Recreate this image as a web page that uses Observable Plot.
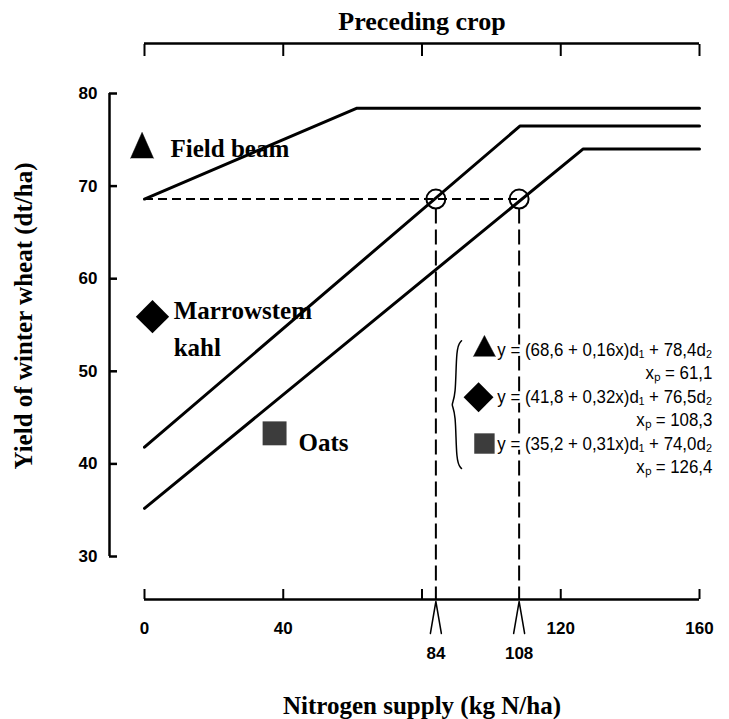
<!DOCTYPE html>
<html>
<head>
<meta charset="utf-8">
<script src="https://cdn.jsdelivr.net/npm/d3@7"></script>
<script src="https://cdn.jsdelivr.net/npm/@observablehq/plot@0.6"></script>
<style>
html, body { margin: 0; padding: 0; background: #fff; }
</style>
</head>
<body>
<div id="chart"></div>
<script>
// ---------- data ----------
const crops = ["Field bean", "Marrowstem kale", "Oats"];
const fieldBeanN = [0, 61.1, 160];
const fieldBeanYield = [68.6, 78.4, 78.4];
const kaleN = [0, 108.3, 160];
const kaleYield = [41.8, 76.5, 76.5];
const oatsN = [0, 126.4, 160];
const oatsYield = [35.2, 74.0, 74.0];

const targetYield = 68.6;          // dashed reference yield
const crossingN = [84, 108];       // N supply where kale / oats reach it

const xDomain = [0, 160];
const yDomain = [30, 80];
const xTicks = [0, 40, 80, 120, 160];
const xTickLabels = [0, 40, 120, 160];
const yTicks = [30, 40, 50, 60, 70, 80];

const seriesLabels = ["Field beam", "Marrowstem\nkahl", "Oats"];
const equations = [
  "y = (68,6 + 0,16x)d\u2081 + 78,4d\u2082",
  "y = (41,8 + 0,32x)d\u2081 + 76,5d\u2082",
  "y = (35,2 + 0,31x)d\u2081 + 74,0d\u2082"
];
const breakpoints = ["x\u209a = 61,1", "x\u209a = 108,3", "x\u209a = 126,4"];

const titleTop = "Preceding crop";
const titleX = "Nitrogen supply (kg N/ha)";
const titleY = "Yield of winter wheat (dt/ha)";

// ---------- layout (positions / styles, kept apart from the data) ----------
const serif = "'Liberation Serif', 'Times New Roman', serif";
const sans = "'Liberation Sans', Arial, sans-serif";
const axisDy = 43;     // x axis sits below the frame
const axisDx = -35;    // y axis sits left of the frame
const topDy = -50;     // top bracket above the frame

// in-chart symbol and label anchors (data units)
const labelPos = [[7.5, 74.4], [8.4, 54.9], [44.4, 42.7]];
const triPos = [-0.7, 73.0];
const diaPos = [2.3, 55.9];
const sqPos = [37.5, 43.3];

// legend anchors (data units)
const legendRight = 163.7;
const eqRowY = [52.25, 47.17, 42.1];
const xpRowY = [49.77, 44.69, 39.62];
const legTri = [98.0, 51.6], legDia = [96.3, 47.2], legSq = [98.0, 42.2];
const braceX = 89.8, braceW = 1.6, braceTop = 53.3, braceBot = 39.5;
const eqWidth = 215;   // px width of an equation line in the reference

// ---------- tables ----------
const lineTable = [
  ...fieldBeanN.map((n, i) => ({crop: crops[0], n, yield: fieldBeanYield[i]})),
  ...kaleN.map((n, i) => ({crop: crops[1], n, yield: kaleYield[i]})),
  ...oatsN.map((n, i) => ({crop: crops[2], n, yield: oatsYield[i]}))
];
const braceMid = (braceTop + braceBot) / 2;
const braceTable = [
  [braceX + braceW, braceTop], [braceX, braceTop - 0.6], [braceX, braceMid + 0.7],
  [braceX - braceW, braceMid], [braceX, braceMid - 0.7], [braceX, braceBot + 0.6],
  [braceX + braceW, braceBot]
];

const labelFont = {fontFamily: serif, fontWeight: "bold", fontSize: 25};
const tickFont = {fontFamily: sans, fontWeight: "bold", fontSize: 17};
const legendFont = {fontFamily: sans, fontSize: 18.5, stroke: "white", strokeWidth: 5, fill: "black"};

const chart = Plot.plot({
  width: 729,
  height: 719,
  marginTop: 93,
  marginBottom: 163,
  marginLeft: 144,
  marginRight: 30,
  x: {domain: xDomain},
  y: {domain: yDomain},
  style: {background: "white", color: "black", overflow: "visible"},
  marks: [
    // top bracket ("Preceding crop")
    Plot.ruleY([yDomain[1]], {x1: xDomain[0], x2: xDomain[1], dy: topDy, strokeWidth: 2.5}),
    Plot.axisX(xTicks, {anchor: "top", tickSize: -12, dy: topDy, tickFormat: () => "", strokeWidth: 2, label: null}),
    Plot.text([titleTop], {frameAnchor: "top", lineAnchor: "middle", dy: -72, ...labelFont, fontSize: 26}),

    // y axis
    Plot.ruleX([xDomain[0]], {y1: yDomain[0], y2: yDomain[1], dx: axisDx, strokeWidth: 2.5}),
    Plot.axisY(yTicks, {tickSize: -8, dx: axisDx, tickFormat: () => "", strokeWidth: 2.5, label: null}),
    Plot.text(yTicks, {y: d => d, text: d => String(d), frameAnchor: "left", dx: axisDx - 12, textAnchor: "end", lineAnchor: "middle", ...tickFont}),
    Plot.text([titleY], {frameAnchor: "left", textAnchor: "middle", lineAnchor: "middle", dx: -121, dy: -9, rotate: -90, ...labelFont}),

    // x axis
    Plot.ruleY([yDomain[0]], {x1: xDomain[0], x2: xDomain[1], dy: axisDy, strokeWidth: 2.5}),
    Plot.axisX(xTicks, {tickSize: -10, dy: axisDy, tickFormat: () => "", strokeWidth: 2, label: null}),
    Plot.text(xTickLabels, {x: d => d, text: d => String(d), frameAnchor: "bottom", lineAnchor: "middle", dy: 72, ...tickFont}),
    Plot.text([titleX], {frameAnchor: "bottom", lineAnchor: "middle", dy: 149, ...labelFont}),

    // reference construction
    Plot.ruleY([targetYield], {x1: xDomain[0], x2: crossingN[1], strokeDasharray: "9,5", strokeWidth: 2}),
    Plot.ruleX(crossingN, {x: d => d, y1: () => targetYield, y2: () => yDomain[0], insetTop: 10, insetBottom: -axisDy, strokeDasharray: "15,6", strokeWidth: 2}),
    Plot.dot(crossingN, {x: d => d, y: () => targetYield, r: 9.5, stroke: "black", strokeWidth: 2, fill: "none"}),
    Plot.vector(crossingN, {x: d => d, frameAnchor: "bottom", dy: axisDy + 2, anchor: "end", shape: "spike", length: 32, r: 5.5, rotate: 0, fill: "white", stroke: "black", strokeWidth: 1.5}),
    Plot.text(crossingN, {x: d => d, text: d => String(d), frameAnchor: "bottom", lineAnchor: "middle", dy: 97, ...tickFont}),

    // response curves
    Plot.line(lineTable, {x: "n", y: "yield", z: "crop", stroke: "black", strokeWidth: 3}),

    // in-chart labels
    Plot.vector([triPos], {x: d => d[0], y: d => d[1], anchor: "start", shape: "spike", length: 26, r: 11.5, rotate: 0, fill: "black", stroke: "black", strokeWidth: 0.5}),
    Plot.dot([diaPos], {x: d => d[0], y: d => d[1], symbol: "diamond2", r: 15, fill: "black"}),
    Plot.dot([sqPos], {x: d => d[0], y: d => d[1], symbol: "square", r: 13.5, fill: "#3c3c3c"}),
    Plot.text(seriesLabels, {x: (d, i) => labelPos[i][0], y: (d, i) => labelPos[i][1], text: d => d, textAnchor: "start", lineHeight: 1.45, ...labelFont}),

    // equation legend
    Plot.line(braceTable, {x: d => d[0], y: d => d[1], curve: "basis", stroke: "black", strokeWidth: 1.5}),
    Plot.text(equations, {x: () => legendRight, y: (d, i) => eqRowY[i], text: d => d, textAnchor: "end", ...legendFont}),
    Plot.text(breakpoints, {x: () => legendRight, y: (d, i) => xpRowY[i], text: d => d, textAnchor: "end", ...legendFont}),
    Plot.vector([legTri], {x: d => d[0], y: d => d[1], anchor: "start", shape: "spike", length: 21, r: 11, rotate: 0, fill: "black", stroke: "black", strokeWidth: 0.5}),
    Plot.dot([legDia], {x: d => d[0], y: d => d[1], symbol: "diamond2", r: 13.5, fill: "black"}),
    Plot.dot([legSq], {x: d => d[0], y: d => d[1], symbol: "square", r: 11.5, fill: "#3c3c3c"})
  ]
});
document.getElementById("chart").append(chart);

// condense the legend text slightly, like the reference's narrow typeface
const legendTexts = d3.select(chart).selectAll("text")
  .filter(function () { return equations.includes(this.textContent) || breakpoints.includes(this.textContent); });
let k = 1;
legendTexts.each(function () {
  if (this.textContent === equations[0]) k = Math.min(1, eqWidth / this.getComputedTextLength());
});
legendTexts.each(function () {
  const w = this.getComputedTextLength();
  this.setAttribute("textLength", (w * k).toFixed(1));
  this.setAttribute("lengthAdjust", "spacingAndGlyphs");
});
</script>
</body>
</html>
